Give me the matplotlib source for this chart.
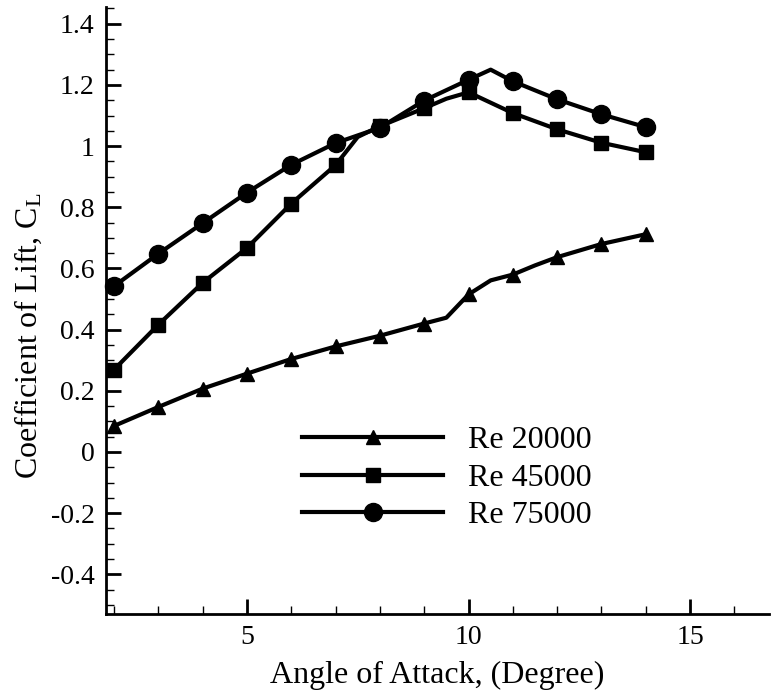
import numpy as np
import matplotlib
matplotlib.use("Agg")
import matplotlib.pyplot as plt
from matplotlib.ticker import MultipleLocator, FuncFormatter

plt.rcParams['font.family'] = ['Liberation Serif', 'DejaVu Serif']
plt.rcParams['mathtext.default'] = 'regular'
plt.rcParams['axes.unicode_minus'] = False

# angle of attack (deg); half-degree entries carry no marker
aoa_20 = [2, 3, 4, 5, 6, 7, 8, 9, 9.5, 10, 10.5, 11, 11.5, 12, 13, 14]
cl_20 = [0.085, 0.147, 0.207, 0.256, 0.304, 0.345, 0.38, 0.42, 0.439, 0.515, 0.561, 0.58, 0.61, 0.637, 0.68, 0.712]

aoa_45 = [2, 3, 4, 5, 6, 7, 7.5, 8, 9, 9.5, 10, 11, 12, 13, 14]
cl_45 = [0.269, 0.416, 0.553, 0.667, 0.812, 0.938, 1.03, 1.065, 1.124, 1.155, 1.176, 1.108, 1.055, 1.011, 0.98]

aoa_75 = [2, 3, 4, 5, 6, 7, 8, 9, 10, 10.5, 11, 12, 13, 14]
cl_75 = [0.542, 0.648, 0.748, 0.848, 0.939, 1.01, 1.06, 1.149, 1.217, 1.25, 1.212, 1.153, 1.104, 1.062]

series = [
    ("Re 20000", aoa_20, cl_20, '^', 9.5),
    ("Re 45000", aoa_45, cl_45, 's', 10),
    ("Re 75000", aoa_75, cl_75, 'o', 13),
]

fig = plt.figure(figsize=(7.76, 6.97), dpi=100)
ax = fig.add_axes([0.136, 0.119, 0.855, 0.871])

for name, x, y, mk, ms in series:
    idx = [i for i, v in enumerate(x) if float(v).is_integer()]  # markers only on whole degrees
    ax.plot(x, y, color='black', lw=3, marker=mk, markersize=ms,
            markevery=idx, label=name, clip_on=False)

ax.set_xlim(1.81, 16.78)
ax.set_ylim(-0.53, 1.455)
ax.xaxis.set_major_locator(MultipleLocator(5))
ax.xaxis.set_minor_locator(MultipleLocator(1))
ax.yaxis.set_major_locator(MultipleLocator(0.2))
ax.yaxis.set_minor_locator(MultipleLocator(0.05))
ax.yaxis.set_major_formatter(FuncFormatter(lambda v, p: '%g' % round(v, 2)))

ax.spines['top'].set_visible(False)
ax.spines['right'].set_visible(False)
ax.spines['left'].set_linewidth(2)
ax.spines['bottom'].set_linewidth(2)
ax.tick_params(which='major', direction='in', length=11, width=2, labelsize=20, pad=8)
ax.tick_params(which='minor', direction='in', length=6, width=1)

ax.set_xlabel("Angle of Attack, (Degree)", fontsize=23, labelpad=8)
ax.set_ylabel("Coefficient of Lift, C$_L$", fontsize=23)
ax.yaxis.set_label_coords(-0.093, 0.458)

ax.legend(loc='center', bbox_to_anchor=(0.515, 0.224), frameon=False,
          fontsize=23, handlelength=4.4, labelspacing=0.26, handletextpad=0.8)

fig.savefig("out.png", dpi=100)
